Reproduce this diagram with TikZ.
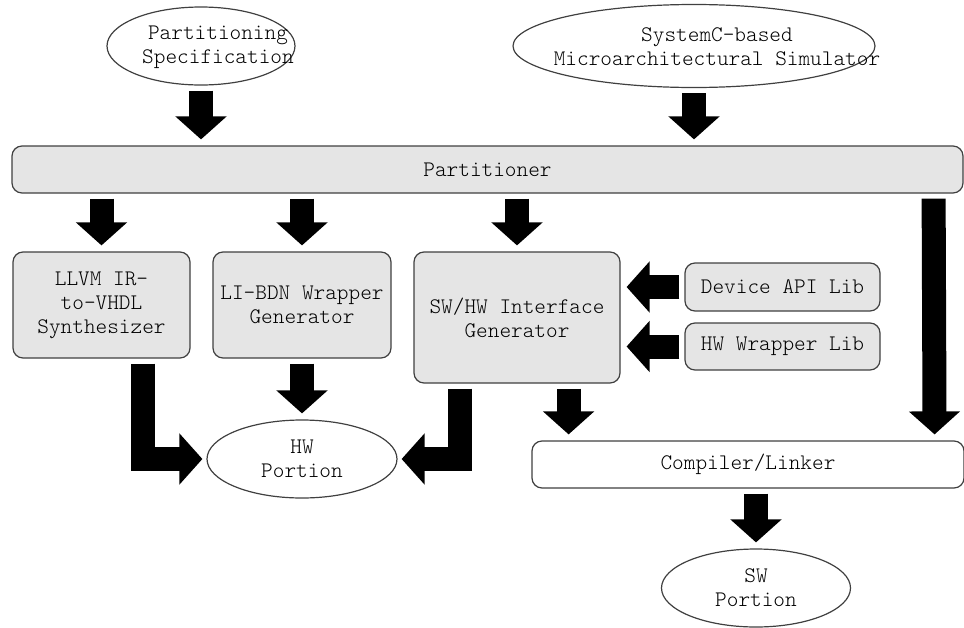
\documentclass[tikz,border=0pt]{standalone}
\usepackage{fontspec}
\newfontfamily\diagfont{Latin Modern Mono Light}
\usetikzlibrary{arrows.meta,shapes.geometric}
\tikzset{
  box/.style={draw=black!75, line width=0.6pt, fill=black!10, rounded corners=5pt, align=center, inner sep=0pt},
  oval/.style={draw=black!75, line width=0.6pt, ellipse, inner sep=0pt, align=center},
  bigarrow/.style={draw, line width=12pt, -{Triangle[length=11.5pt,width=25pt]}, shorten <=2.5pt, shorten >=3pt},
}
\begin{document}
\begin{tikzpicture}[x=0.5pt, y=-0.5pt, every node/.style={font=\diagfont\fontsize{11.1}{12}\selectfont}]
            \useasboundingbox (0,0) rectangle (964,627);
            % inputs
            \node [oval, minimum width=94pt, minimum height=39pt] (spec) at (201,46) {};
            \node [align=center] (spectxt) at (218,47) {Partitioning\\Specification};
            \node [oval, minimum width=181pt, minimum height=41.5pt] (simc) at (694,46) {};
            \node [align=center] (simctxt) at (717,47) {SystemC-based\\Microarchitectural Simulator};
            \node [box, minimum width=475.5pt, minimum height=23.5pt] (part) at (487.5,169.5) {Partitioner};
            % generators
            \node [box, minimum width=88.5pt, minimum height=53pt] (llvm) at (101.5,305) {LLVM IR-\\to-VHDL\\Synthesizer};
            \node [box, minimum width=89pt, minimum height=53pt] (libdn) at (302,305) {LI-BDN Wrapper\\Generator};
            \node [box, minimum width=103pt, minimum height=65.5pt] (swhw) at (517,317.5) {SW/HW Interface\\Generator};
            \node [box, minimum width=97.5pt, minimum height=24pt] (devlib) at (782.5,287) {Device API Lib};
            \node [box, minimum width=97.5pt, minimum height=23.5pt] (hwlib) at (782.5,346.5) {HW Wrapper Lib};
            % outputs
            \node [box, fill=white, minimum width=216pt, minimum height=23.5pt] (comp) at (748,464.5) {Compiler/Linker};
            \node [oval, minimum width=95pt, minimum height=39pt] (hwp) at (302,459) {HW\\Portion};
            \node [oval, minimum width=94.5pt, minimum height=39pt] (swp) at (756,588) {SW\\Portion};
            \coordinate (llvmout) at ([xshift=-24pt]llvm.south east);
            \coordinate (swhwout) at ([xshift=23.5pt]swhw.south west);
            \coordinate (swcomp) at ([xshift=-26pt]swhw.south east);
            \path (spec) edge[bigarrow] (part.north -| spec);
            \path (simc) edge[bigarrow] (part.north -| simc);
            \path (part.south -| llvm) edge[bigarrow] (llvm);
            \path (part.south -| libdn) edge[bigarrow] (libdn);
            \path (part.south -| swhw) edge[bigarrow] (swhw);
            \path ([xshift=-15pt]part.south east) edge[bigarrow] ([xshift=-15pt]comp.north east);
            \path (devlib) edge[bigarrow] (swhw.east |- devlib);
            \path (hwlib) edge[bigarrow] (swhw.east |- hwlib);
            \path (libdn) edge[bigarrow] (hwp);
            \path (swcomp) edge[bigarrow] (swcomp |- comp.north);
            \path (comp.south -| swp) edge[bigarrow] (swp);
            \draw [bigarrow, shorten >=2pt] (llvmout) |- (hwp.west);
            \draw [bigarrow, shorten >=2pt] (swhwout) |- (hwp.east);
        \end{tikzpicture}
\end{document}
